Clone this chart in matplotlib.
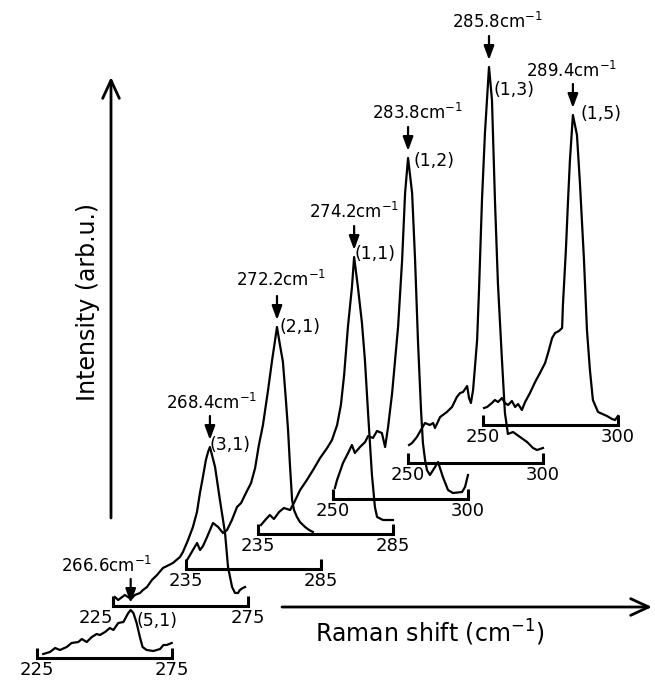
import matplotlib
matplotlib.use("Agg")
import matplotlib.pyplot as plt
import numpy as np
from matplotlib.patches import ArrowStyle

# Raman spectra of confined phonon modes, one per mode (shift in cm^-1, intensity arb. u.)
shift_51 = [227.3, 229.8, 231.7, 233.5, 236.0, 237.8, 240.3, 241.6, 243.4, 245.3, 247.1, 248.3,
            250.2, 252.0, 253.3, 255.1, 257.0, 258.8, 259.7, 260.7, 261.9, 263.1, 264.1, 265.6,
            268.1, 270.6, 271.8, 273.0, 274.9]
int_51 = [4, 6, 10, 8, 11, 15, 16, 19, 16, 21, 24, 23, 26, 30, 28, 35, 36, 45, 48, 45, 35, 21,
          11, 8, 7, 9, 13, 13, 15]

shift_31 = [225.7, 226.9, 229.4, 231.7, 233.1, 235.0, 236.1, 237.6, 239.4, 241.3, 243.5, 245.0,
            247.2, 249.8, 250.9, 252.8, 254.6, 256.1, 257.2, 258.3, 259.4, 260.2, 260.9, 262.8,
            264.6, 266.5, 267.6, 269.1, 270.2, 271.3, 272.0, 273.1, 273.9]
int_31 = [9, 6, 11, 7, 11, 13, 16, 19, 26, 31, 38, 40, 43, 49, 54, 66, 79, 94, 113, 129, 146,
          154, 159, 139, 106, 73, 39, 19, 13, 13, 16, 18, 19]

shift_21 = [235.4, 236.5, 238.0, 239.1, 240.2, 241.3, 242.8, 245.0, 246.9, 248.7, 250.2, 252.0,
            253.9, 255.4, 257.2, 259.1, 260.6, 262.0, 263.5, 265.4, 266.9, 268.0, 268.7, 269.8,
            270.9, 272.0, 272.8, 273.5, 274.3, 275.0, 276.1, 277.2, 279.1, 280.6, 282.0]
int_21 = [9, 14, 21, 26, 19, 23, 32, 46, 42, 36, 39, 49, 62, 66, 76, 86, 101, 124, 144, 179, 209,
          229, 242, 224, 207, 169, 139, 104, 69, 59, 52, 47, 42, 39, 37]

shift_11 = [236.1, 238.0, 239.4, 240.9, 242.8, 244.6, 246.9, 248.3, 250.6, 253.1, 255.4, 258.0,
            260.6, 262.4, 264.3, 265.7, 266.9, 268.3, 269.8, 270.6, 272.0, 273.5, 274.6, 275.7,
            276.5, 277.2, 278.3, 279.1, 281.3, 285.0]
int_11 = [9, 15, 19, 15, 22, 26, 24, 31, 44, 54, 64, 76, 86, 94, 109, 129, 159, 207, 247, 277,
          247, 211, 174, 124, 89, 59, 27, 17, 14, 14]

shift_12 = [250.7, 251.5, 253.7, 255.6, 257.0, 258.1, 260.0, 261.9, 263.0, 264.8, 266.3, 268.1,
            269.3, 270.4, 271.9, 273.0, 274.1, 275.6, 276.7, 277.8, 279.3, 280.4, 281.5, 282.6,
            283.3, 284.1, 284.8, 285.9, 287.8, 288.9, 290.7, 292.6, 294.4, 297.8, 298.9, 300.0]
int_12 = [11, 19, 36, 46, 54, 46, 52, 57, 63, 61, 68, 66, 52, 72, 106, 139, 172, 239, 306, 341,
          306, 239, 156, 89, 56, 39, 29, 24, 32, 37, 22, 9, 6, 7, 12, 24]

shift_13 = [250.4, 251.5, 253.3, 255.2, 256.3, 258.1, 259.3, 260.0, 261.9, 264.4, 266.3, 268.1,
            269.3, 270.4, 271.9, 272.6, 273.3, 274.1, 274.8, 275.6, 276.3, 277.4, 278.5, 280.0,
            281.1, 282.2, 283.3, 284.8, 285.9, 286.7, 287.0, 288.9, 291.5, 294.1, 296.3, 297.8,
            300.0]
int_13 = [18, 20, 26, 35, 40, 38, 40, 35, 46, 51, 56, 66, 70, 71, 77, 65, 60, 73, 96, 123, 173,
          263, 330, 396, 363, 263, 180, 103, 50, 35, 29, 31, 26, 21, 15, 13, 15]

shift_15 = [250.4, 251.5, 253.3, 254.4, 255.6, 257.0, 258.1, 259.3, 260.7, 261.9, 263.0, 264.4,
            265.6, 267.4, 269.3, 271.1, 273.0, 274.1, 275.6, 276.7, 278.1, 279.3, 279.6, 280.7,
            281.5, 282.2, 283.3, 284.8, 285.9, 287.4, 288.5, 289.6, 290.7, 292.6, 295.9, 297.8,
            298.9, 300.0]
int_15 = [17, 18, 22, 25, 23, 27, 22, 20, 24, 18, 21, 15, 23, 32, 43, 52, 62, 72, 87, 92, 94, 97,
          120, 175, 225, 265, 310, 290, 242, 165, 95, 55, 25, 13, 9, 6, 5, 9]

modes = ["(5,1)", "(3,1)", "(2,1)", "(1,1)", "(1,2)", "(1,3)", "(1,5)"]
peak_labels = ["266.6", "268.4", "272.2", "274.2", "283.8", "285.8", "289.4"]
range_lo = [225, 225, 235, 235, 250, 250, 250]
range_hi = [275, 275, 285, 285, 300, 300, 300]

shifts = [shift_51, shift_31, shift_21, shift_11, shift_12, shift_13, shift_15]
intens = [int_51, int_31, int_21, int_11, int_12, int_13, int_15]

# layout (pixels in the 655x681 figure): lower-left corner of each offset trace
W, H = 655, 681
AX_W, AX_H = 135, 420
corner_px = [(37, 658), (113, 606), (186, 569), (258, 534), (333, 499), (408, 463), (483, 425)]
label_off = [(-24, -37), (2, -37), (4, -40), (0, -38), (9, -38), (8, -38), (-1, -37)]
mode_off = [(26, 18), (20, 5), (23, 7), (21, 4), (26, 10), (25, 30), (28, 6)]

fig = plt.figure(figsize=(W / 100, H / 100), dpi=100)
head = ArrowStyle("-|>", head_length=0.6, head_width=0.22)

for k in range(len(modes)):
    xl, yb = corner_px[k]
    ax = fig.add_axes([xl / W, 1 - yb / H, AX_W / W, AX_H / H])
    ax.patch.set_visible(False)
    ax.set_xlim(range_lo[k], range_hi[k])
    ax.set_ylim(0, AX_H)
    for side in ("top", "left", "right"):
        ax.spines[side].set_visible(False)
    ax.spines["bottom"].set_linewidth(2.2)
    ax.spines["bottom"].set_capstyle("projecting")
    ax.set_yticks([])
    ax.set_xticks([range_lo[k], range_hi[k]])
    ax.set_xticklabels([str(range_lo[k]), str(range_hi[k])])
    ax.tick_params(axis="x", direction="in", length=7, width=2.2, pad=2, labelsize=13)
    if k == 1:
        ax.get_xticklabels()[0].set_horizontalalignment("right")

    s = np.array(shifts[k])
    y = np.array(intens[k])
    ax.plot(s, y, color="black", lw=1.6, clip_on=False)

    ip = int(np.argmax(y))
    tip = (s[ip], y[ip] + 7)
    ax.annotate("", xy=tip, xytext=(0, 24), textcoords="offset pixels",
                arrowprops=dict(arrowstyle=head, color="black", lw=1.6,
                                shrinkA=0, shrinkB=0, mutation_scale=14))
    dx, dy = label_off[k]
    ax.annotate(peak_labels[k] + r"cm$^{-1}$", xy=tip, xytext=(dx, -dy),
                textcoords="offset pixels", ha="center", va="center", fontsize=12)
    dx, dy = mode_off[k]
    ax.annotate(modes[k], xy=tip, xytext=(dx, -dy),
                textcoords="offset pixels", ha="center", va="center", fontsize=12.5)

# axis arrows
open_head = ArrowStyle("->", head_length=0.65, head_width=0.3)
fig.add_artist(matplotlib.patches.FancyArrowPatch(
    (111 / W, 1 - 518 / H), (111 / W, 1 - 77 / H), transform=fig.transFigure,
    arrowstyle=open_head, mutation_scale=20, lw=2, color="black", shrinkA=0, shrinkB=0))
fig.add_artist(matplotlib.patches.FancyArrowPatch(
    (282 / W, 1 - 607 / H), (652 / W, 1 - 607 / H), transform=fig.transFigure,
    arrowstyle=open_head, mutation_scale=20, lw=2, color="black", shrinkA=0, shrinkB=0))

fig.text(88 / W, 1 - 302 / H, "Intensity (arb.u.)", rotation=90, ha="center", va="center",
         fontsize=17)
fig.text(430 / W, 1 - 633 / H, r"Raman shift (cm$^{-1}$)", ha="center", va="center",
         fontsize=17)

fig.savefig("out.png", dpi=100)
